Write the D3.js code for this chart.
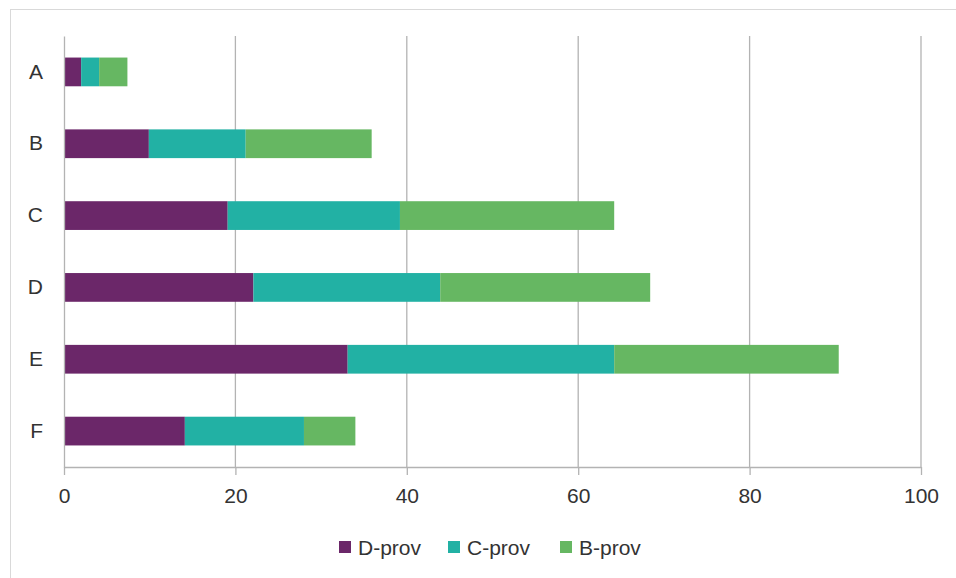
<!DOCTYPE html>
<html>
<head>
<meta charset="utf-8">
<script src="https://cdn.jsdelivr.net/npm/d3@7"></script>
<style>
  body { margin: 0; background: #fff; }
  svg { display: block; font-family: "Liberation Sans", Arial, sans-serif; }
</style>
</head>
<body>
<div id="area"></div>
<script>
// data
var categories = ["A", "B", "C", "D", "E", "F"];
var seriesNames = ["D-prov", "C-prov", "B-prov"];
var dProv = [2.0, 9.9, 19.1, 22.1, 33.1, 14.1];
var cProv = [2.1, 11.3, 20.1, 21.8, 31.1, 13.9];
var bProv = [3.3, 14.7, 25.0, 24.5, 26.2, 6.0];
var xTicks = [0, 20, 40, 60, 80, 100];
var colors = ["#6b2769", "#22b1a4", "#66b762"];

var W = 956, H = 578;
var margin = { top: 36, right: 35, bottom: 111, left: 64 },
    width = W - margin.left - margin.right,
    height = H - margin.top - margin.bottom;

var svg = d3.select("#area")
    .append("svg")
    .attr("width", W)
    .attr("height", H);

// outer frame
svg.append("rect")
    .attr("x", 10.5).attr("y", 9.5)
    .attr("width", W + 20).attr("height", H + 20)
    .attr("fill", "none")
    .attr("stroke", "#d9d9d9");

var g = svg.append("g")
    .attr("transform", "translate(" + margin.left + "," + margin.top + ")");

var rows = categories.map(function (c, i) {
    return { cat: c, "D-prov": dProv[i], "C-prov": cProv[i], "B-prov": bProv[i] };
});
var stacked = d3.stack().keys(seriesNames)(rows);

var x = d3.scaleLinear().domain([0, 100]).range([0, width]);
var y = d3.scaleBand().domain(categories).range([0, height]).paddingInner(0.6).paddingOuter(0.3);

// gridlines
g.selectAll(".grid")
    .data(xTicks.slice(1))
    .enter().append("line")
    .attr("x1", function (d) { return x(d); })
    .attr("x2", function (d) { return x(d); })
    .attr("y1", 0).attr("y2", height)
    .attr("stroke", "#b3b3b3")
    .attr("stroke-width", 1.3);

// bars
g.selectAll(".series")
    .data(stacked)
    .enter().append("g")
    .attr("fill", function (d, i) { return colors[i]; })
    .selectAll("rect")
    .data(function (d) { return d; })
    .enter().append("rect")
    .attr("x", function (d) { return x(d[0]); })
    .attr("width", function (d) { return x(d[1]) - x(d[0]); })
    .attr("y", function (d) { return y(d.data.cat); })
    .attr("height", y.bandwidth());

// x axis
var xAxis = g.append("g")
    .attr("transform", "translate(0," + height + ")")
    .call(d3.axisBottom(x).tickValues(xTicks).tickSize(8).tickPadding(13).tickSizeOuter(0));
xAxis.select(".domain").attr("stroke", "#b3b3b3").attr("stroke-width", 1.3);
xAxis.selectAll(".tick line").attr("stroke", "#b3b3b3").attr("stroke-width", 1.3);
xAxis.selectAll(".tick text").attr("fill", "#333").style("font-size", "21px");

// y axis (left line only)
var yAxis = g.append("g")
    .call(d3.axisLeft(y).tickSize(0).tickPadding(21));
yAxis.select(".domain").attr("stroke", "#b3b3b3").attr("stroke-width", 1.3);
yAxis.selectAll(".tick text").attr("fill", "#333").style("font-size", "21px");

// legend
var legendX = [339, 448, 560];
var legend = svg.append("g");
seriesNames.forEach(function (name, i) {
    legend.append("rect")
        .attr("x", legendX[i]).attr("y", 541)
        .attr("width", 12).attr("height", 12)
        .attr("fill", colors[i]);
    legend.append("text")
        .attr("x", legendX[i] + 19).attr("y", 548)
        .attr("dy", "0.35em")
        .attr("fill", "#333")
        .style("font-size", "21px")
        .text(name);
});
</script>
</body>
</html>
